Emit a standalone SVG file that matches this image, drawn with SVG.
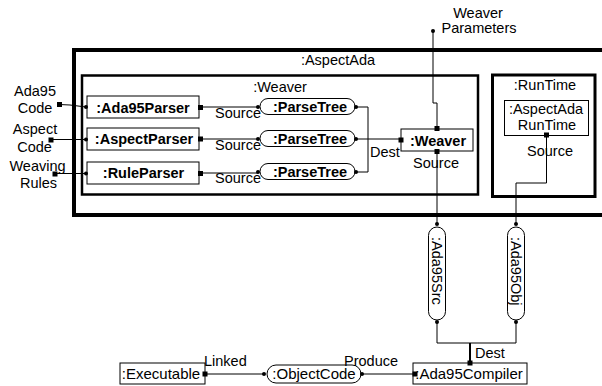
<svg xmlns="http://www.w3.org/2000/svg" width="602" height="386" viewBox="0 0 602 386">
<style>
text{font-family:"Liberation Sans",Arial,sans-serif;font-size:14.5px;fill:#000}
.b{font-weight:bold}
.m{text-anchor:middle}
.s15{font-size:15px}
.box{fill:#fff;stroke:#000;stroke-width:1}
.pill{fill:#fff;stroke:#000;stroke-width:1}
.c{fill:none;stroke:#000;stroke-width:1}
.sq{fill:#000}
.dot{fill:#000}
</style>
<rect width="602" height="386" fill="#fff"/>
<g id="AspectAda">
<path d="M 610 50 H 74 V 215 H 610" fill="none" stroke="#000" stroke-width="4"/>
<text x="338" y="65" class="m">:AspectAda</text>
</g>
<g id="Weaver">
<rect x="82" y="75.5" width="396" height="119" fill="none" stroke="#000" stroke-width="2.5"/>
<text x="280" y="92" class="m">:Weaver</text>
</g>
<g id="RunTime">
<rect x="492.5" y="75" width="102.5" height="121.5" fill="none" stroke="#000" stroke-width="3"/>
<text x="545" y="90" class="m">:RunTime</text>
</g>
<g id="AspectAdaRunTime">
<rect class="box" x="504.5" y="100.5" width="84" height="35"/>
<text x="546" y="114" class="m">:AspectAda</text>
<text x="547" y="130" class="m">RunTime</text>
</g>
<g id="Ada95Parser">
<rect class="box" x="87" y="96" width="112" height="22"/>
<text x="143" y="112.5" class="m b">:Ada95Parser</text>
</g>
<g id="AspectParser">
<rect class="box" x="87" y="128" width="112" height="22"/>
<text x="144" y="144" class="m b">:AspectParser</text>
</g>
<g id="RuleParser">
<rect class="box" x="87" y="162" width="112" height="22"/>
<text x="143.5" y="178" class="m b">:RuleParser</text>
</g>
<g id="ParseTree1">
<rect class="pill" x="260" y="98.5" width="95" height="16" rx="8"/>
<text x="310" y="111.5" class="m b">:ParseTree</text>
</g>
<g id="ParseTree2">
<rect class="pill" x="260" y="130.5" width="95" height="16" rx="8"/>
<text x="310" y="143.5" class="m b">:ParseTree</text>
</g>
<g id="ParseTree3">
<rect class="pill" x="260" y="163.5" width="95" height="16" rx="8"/>
<text x="310" y="176.5" class="m b">:ParseTree</text>
</g>
<g id="WeaverObj">
<rect class="box" x="401" y="129" width="72" height="22"/>
<text x="438" y="145.5" class="m b">:Weaver</text>
</g>
<g id="Ada95Src">
<rect class="pill" x="428.5" y="227" width="17" height="93" rx="8.5"/>
<text transform="translate(437,237) rotate(90)" x="0" y="5">:Ada95Src</text>
</g>
<g id="Ada95Obj">
<rect class="pill" x="507.5" y="227" width="17" height="93" rx="8.5"/>
<text transform="translate(516,237) rotate(90)" x="0" y="5">:Ada95Obj</text>
</g>
<g id="Executable">
<rect class="box" x="120" y="363" width="85" height="21"/>
<text x="161" y="379" class="m s15">:Executable</text>
</g>
<g id="ObjectCode">
<rect class="pill" x="267" y="365" width="94" height="18" rx="9"/>
<text x="314" y="379" class="m s15">:ObjectCode</text>
</g>
<g id="Ada95Compiler">
<rect class="box" x="413" y="363" width="114" height="21"/>
<text x="469" y="379" class="m s15">:Ada95Compiler</text>
</g>
<g id="connectors">
<path class="c" d="M 59 104.5 L 70 105 L 86 107"/>
<path class="c" d="M 51 139.5 H 86"/>
<path class="c" d="M 55 173.5 H 86"/>
<path class="c" d="M 200 107 H 258"/>
<path class="c" d="M 200 139 H 258"/>
<path class="c" d="M 200 173 H 258"/>
<path class="c" d="M 356 107 H 368 V 172 H 356"/>
<path class="c" d="M 356 139 H 401"/>
<path class="c" d="M 433 31 V 103 H 437 V 129"/>
<path class="c" d="M 437 151 V 224"/>
<path class="c" d="M 546.5 135 V 183 H 516 V 224"/>
<path class="c" d="M 437 322 V 343 H 516 V 322"/>
<path fill="none" stroke="#000" stroke-width="2" d="M 470 343 V 363"/>
<path class="c" d="M 205 374 H 264"/>
<path class="c" d="M 362 374 H 415"/>
<g class="sq">
<rect x="57" y="102" width="5" height="5"/>
<rect x="48.5" y="137.5" width="5" height="5"/>
<rect x="52.5" y="171.5" width="5" height="5"/>
<rect x="198" y="105" width="5" height="5"/>
<rect x="198" y="136.5" width="5" height="5"/>
<rect x="198" y="171" width="5" height="5"/>
<rect x="398.5" y="137.5" width="5" height="5"/>
<rect x="434.5" y="126" width="5" height="5"/>
<rect x="434.5" y="149" width="5" height="5"/>
<rect x="544" y="132.5" width="5" height="5"/>
<rect x="467.5" y="360.5" width="5" height="5"/>
<rect x="412.5" y="371.5" width="5" height="5"/>
<rect x="202.5" y="371.5" width="5" height="5"/>
</g>
<g class="dot">
<circle cx="86" cy="107" r="2"/>
<circle cx="86" cy="139.5" r="2"/>
<circle cx="86" cy="173.5" r="2"/>
<circle cx="258" cy="107" r="2"/>
<circle cx="258" cy="139" r="2"/>
<circle cx="258" cy="172" r="2"/>
<circle cx="356" cy="107" r="2"/>
<circle cx="356" cy="139" r="2"/>
<circle cx="356" cy="172" r="2"/>
<circle cx="433" cy="31" r="2"/>
<circle cx="437" cy="224" r="2"/>
<circle cx="437" cy="322" r="2"/>
<circle cx="516" cy="224" r="2"/>
<circle cx="516" cy="322" r="2"/>
<circle cx="264" cy="374" r="2"/>
<circle cx="362" cy="374" r="2"/>
</g>
</g>
<g id="labels">
<text x="35" y="96" class="m">Ada95</text>
<text x="35" y="113" class="m">Code</text>
<text x="35" y="134" class="m">Aspect</text>
<text x="34.5" y="151.5" class="m">Code</text>
<text x="37.5" y="170.5" class="m">Weaving</text>
<text x="38.5" y="188" class="m">Rules</text>
<text x="215" y="117.5">Source</text>
<text x="215" y="149.5">Source</text>
<text x="215" y="182.5">Source</text>
<text x="370" y="156.5">Dest</text>
<text x="413" y="168">Source</text>
<text x="527" y="156">Source</text>
<text x="478" y="18" class="m">Weaver</text>
<text x="479" y="33" class="m">Parameters</text>
<text x="475" y="358">Dest</text>
<text x="204" y="365.5">Linked</text>
<text x="344" y="366">Produce</text>
</g>
</svg>
